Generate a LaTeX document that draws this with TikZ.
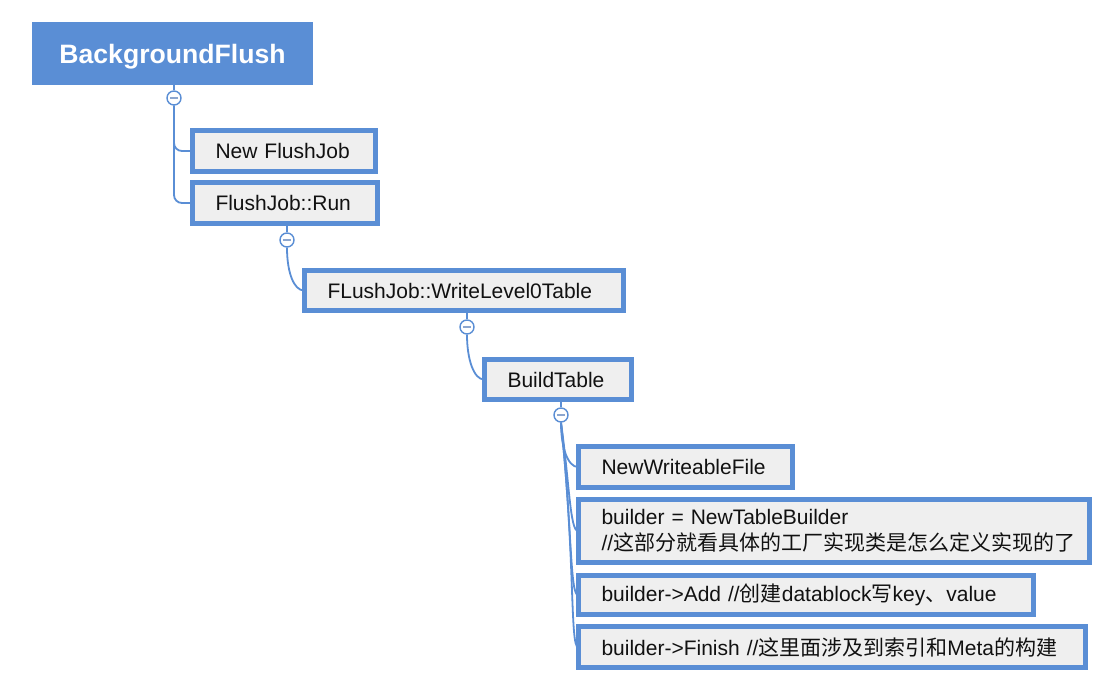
\documentclass[tikz,border=0pt]{standalone}
\usepackage{fontspec}
\setmainfont{Liberation Sans}
\newfontfamily\cjk{Noto Sans CJK SC}
\definecolor{xblue}{HTML}{5A8ED5}
\definecolor{minusc}{HTML}{8CA6CF}
\definecolor{boxgray}{HTML}{EFEFEF}
\definecolor{txt}{HTML}{111111}
\begin{document}
\begin{tikzpicture}[x=1pt,y=1pt,
  box/.style={draw=xblue, line width=5pt, fill=boxgray, anchor=west, outer sep=0pt, inner xsep=23.5pt, inner ysep=0pt, align=left, text=txt, font=\fontsize{21}{26}\selectfont},
  tog/.style={circle, draw=xblue, line width=1.4pt, fill=white, minimum size=14pt, inner sep=0pt,
    path picture={\draw[minusc, line width=2pt] ([xshift=-3.8pt]path picture bounding box.center) -- ([xshift=3.8pt]path picture bounding box.center);}},
  conn/.style={draw=xblue, line width=1.8pt}]
\useasboundingbox (0,0) rectangle (1112,-690);
\fill[white] (0,0) rectangle (1112,-690);

\node[fill=xblue, outer sep=0pt, minimum width=281pt, minimum height=63pt, inner sep=0pt, text depth=0pt, text=white, font=\bfseries\fontsize{26.6}{30}\selectfont] (root) at (172.5,-53.5) {BackgroundFlush};

\node[box, text width=136pt, minimum height=41pt] (nfj) at (192,-151) {\mbox{New FlushJob}};
\node[box, text width=138pt, minimum height=41pt] (run) at (192,-203) {FlushJob::Run};
\node[box, text width=272pt, minimum height=40pt] (wl0) at (304,-290.5) {FLushJob::WriteLevel0Table};
\node[box, text width=100pt, minimum height=40pt] (bt) at (484,-379.5) {BuildTable};
\node[box, text width=167pt, minimum height=41pt] (nwf) at (578,-467) {NewWriteableFile};
\node[box, text width=464pt, minimum height=63pt] (ntb) at (578,-531) {builder = NewTableBuilder\\//{\cjk 这部分就看具体的工厂实现类是怎么定义实现的了}};
\node[box, text width=408pt, minimum height=39pt] (add) at (578,-595) {builder->Add //{\cjk 创建}datablock{\cjk 写}key{\cjk 、}value};
\node[box, text width=460pt, minimum height=41pt] (fin) at (578,-647) {builder->Finish //{\cjk 这里面涉及到索引和}Meta{\cjk 的构建}};

\node[tog] (c0) at (174,-98) {};
\node[tog] (c1) at (287,-240) {};
\node[tog] (c2) at (467,-327) {};
\node[tog] (c3) at (561,-415) {};

\draw[conn] (c0 |- root.south) -- (c0.north);
\draw[conn, rounded corners=8pt] (c0.south) |- (nfj.west);
\draw[conn, rounded corners=8pt] (c0.south) |- (run.west);

\draw[conn] (c1 |- run.south) -- (c1.north);
\draw[conn] (c1.south) to[out=-90, in=180, out distance=25pt, in distance=10pt] (wl0.west);

\draw[conn] (c2 |- wl0.south) -- (c2.north);
\draw[conn] (c2.south) to[out=-90, in=180, out distance=25pt, in distance=10pt] (bt.west);

\draw[conn] (c3 |- bt.south) -- (c3.north);
\draw[conn] (c3.south) to[out=-90, in=180, out distance=25pt, in distance=10pt] (nwf.west);
\draw[conn] (c3.south) to[out=-82, in=180, out distance=60pt, in distance=8pt] (ntb.west);
\draw[conn] (c3.south) to[out=-84, in=180, out distance=105pt, in distance=8pt] (add.west);
\draw[conn] (c3.south) to[out=-84, in=180, out distance=135pt, in distance=8pt] (fin.west);
\end{tikzpicture}
\end{document}
